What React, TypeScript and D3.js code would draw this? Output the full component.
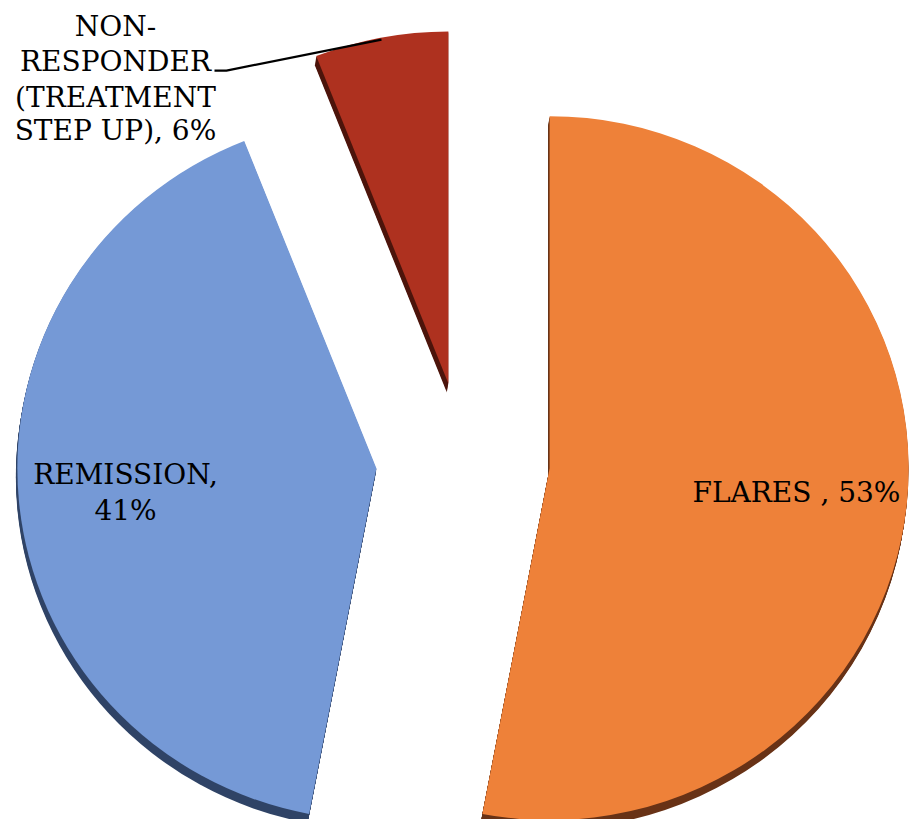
import React from "react";
import * as d3 from "d3";

const categories = ["FLARES", "REMISSION", "NON-RESPONDER (TREATMENT STEP UP)"];
const values = [53, 41, 6];
const labelLines = [["FLARES , 53%"], ["REMISSION,", "41%"], ["NON-", "RESPONDER", "(TREATMENT", "STEP UP), 6%"]];
const faceColors = ["#EE8139", "#7599D6", "#AE311F"];
const sideColors = ["#683216", "#2F4366", "#4C140B"];

const W = 911;
const H = 819;
const CX = 463;
const CY = 460;
const R = 352;
const SX = 1.02;
const EXPLODE = [87, 87, 78];
const DEPTH_X = -1.5;
const DEPTH_Y = 9;
const FONT = "DejaVu Serif";
const FS = 28;
const LINE_H = 35.5;

export default function App() {
  const pie = d3.pie<number>().sort(null).value((d) => d)(values);
  const arc = d3.arc<d3.PieArcDatum<number>>().innerRadius(0).outerRadius(R);
  const steps = d3.range(1, 10);

  return (
    <svg width={W} height={H} style={{ position: "absolute", left: 0, top: 0, background: "#fff" }}>
      {pie.map((p, i) => {
        const mid = (p.startAngle + p.endAngle) / 2;
        const ox = CX + EXPLODE[i] * Math.sin(mid);
        const oy = CY - EXPLODE[i] * Math.cos(mid);
        const d = arc(p) || "";
        const lines = labelLines[i];
        let label;
        if (i < 2) {
          const lr = 252;
          const lx = ox + lr * Math.sin(mid) - (i === 0 ? 4 : 0);
          const ly = oy - lr * Math.cos(mid);
          const y0 = ly - ((lines.length - 1) * LINE_H) / 2 + FS * 0.36;
          label = (
            <text x={lx} y={y0} style={{ fontFamily: FONT }} fontSize={FS} textAnchor="middle" fill="#000">
              {lines.map((l, j) => (
                <tspan key={j} x={lx} y={y0 + j * LINE_H}>{l}</tspan>
              ))}
            </text>
          );
        } else {
          const sx = ox + (R - 2) * SX * Math.sin(mid);
          const sy = oy - (R - 2) * Math.cos(mid);
          const ex = sx - 155;
          const ey = sy + 31;
          const tx = ex - 111;
          const b0 = ey - 35;
          label = (
            <g>
              <polyline points={`${sx},${sy} ${ex},${ey} ${ex - 12},${ey}`} fill="none" stroke="#000" strokeWidth={2.2} />
              <text x={tx} y={b0} style={{ fontFamily: FONT }} fontSize={FS} textAnchor="middle" fill="#000">
                {lines.map((l, j) => (
                  <tspan key={j} x={tx} y={b0 + j * LINE_H + (j === 3 ? -2 : 0)}>{l}</tspan>
                ))}
              </text>
            </g>
          );
        }
        return (
          <g key={categories[i]}>
            {steps.map((k) => (
              <path
                key={k}
                d={d}
                transform={`translate(${ox + (DEPTH_X * k) / steps.length},${oy + (DEPTH_Y * k) / steps.length}) scale(${SX},1)`}
                fill={sideColors[i]}
              />
            ))}
            <path d={d} transform={`translate(${ox},${oy}) scale(${SX},1)`} fill={faceColors[i]} />
            {label}
          </g>
        );
      })}
    </svg>
  );
}
